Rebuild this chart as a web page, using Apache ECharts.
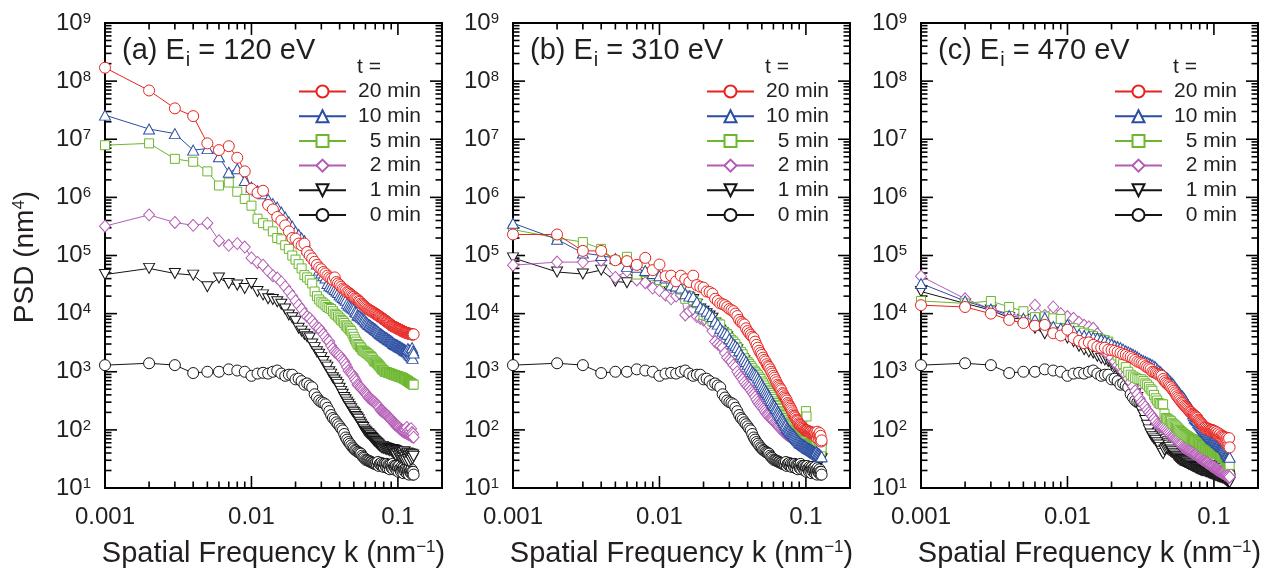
<!DOCTYPE html>
<html>
<head>
<meta charset="utf-8">
<title>PSD vs spatial frequency</title>
<script src="https://cdn.jsdelivr.net/npm/echarts@6/dist/echarts.min.js"></script>
<style>
  html, body { margin: 0; padding: 0; background: #ffffff; }
  #chart { width: 1270px; height: 573px; }
</style>
</head>
<body>
<div id="chart"></div>
<script>
// Spatial frequency grid k (nm^-1), shared by every curve
const k = [
  0.001,0.002,0.003,0.004,0.005,0.006,0.007,0.008,0.009,0.010,
  0.011,0.012,0.013,0.014,0.015,0.016,0.017,0.018,0.019,0.020,
  0.021,0.022,0.023,0.024,0.025,0.026,0.027,0.028,0.029,0.030,
  0.031,0.032,0.033,0.034,0.035,0.036,0.037,0.038,0.039,0.040,
  0.041,0.042,0.043,0.044,0.045,0.046,0.047,0.048,0.049,0.050,
  0.051,0.052,0.053,0.054,0.055,0.056,0.057,0.058,0.059,0.060,
  0.061,0.062,0.063,0.064,0.065,0.066,0.067,0.068,0.069,0.070,
  0.071,0.072,0.073,0.074,0.075,0.076,0.077,0.078,0.079,0.080,
  0.081,0.082,0.083,0.084,0.085,0.086,0.087,0.088,0.089,0.090,
  0.091,0.092,0.093,0.094,0.095,0.096,0.097,0.098,0.099,0.100,
  0.101,0.102,0.103,0.104,0.105,0.106,0.107,0.108,0.109,0.110,
  0.111,0.112,0.113,0.114,0.115,0.116,0.117,0.118,0.119,0.120,
  0.121,0.122,0.123,0.124,0.125,0.126,0.127,0.128
];

// PSD (nm^4) of the unirradiated surface, t = 0 min (same in all panels)
const psd0 = [
  1.3e3,1.4e3,1.3e3,9.5e2,1.0e3,1.0e3,1.1e3,1.05e3,1.0e3,8.5e2,
  9.3e2,9.6e2,9.3e2,1.0e3,1.05e3,9.3e2,8.5e2,8.9e2,8.9e2,7.4e2,
  7.6e2,6.9e2,6.0e2,6.3e2,5.8e2,5.4e2,4.1e2,3.6e2,3.2e2,3.0e2,
  2.9e2,2.75e2,2.4e2,2.1e2,1.8e2,1.6e2,1.5e2,1.35e2,1.25e2,1.15e2,
  1.05e2,9.8e1,8.5e1,7.4e1,6.8e1,6.2e1,5.8e1,5.4e1,5.0e1,4.8e1,
  4.5e1,4.4e1,4.2e1,4.1e1,4.0e1,3.9e1,3.6e1,3.4e1,3.3e1,3.1e1,
  3.0e1,3.0e1,2.95e1,2.9e1,2.8e1,2.8e1,2.7e1,2.7e1,2.6e1,2.6e1,
  2.7e1,2.5e1,2.8e1,2.4e1,2.6e1,2.5e1,2.7e1,2.4e1,2.6e1,2.3e1,
  2.6e1,2.5e1,2.3e1,2.6e1,2.2e1,2.5e1,2.4e1,2.1e1,2.5e1,2.3e1,
  2.2e1,2.6e1,2.1e1,2.4e1,2.3e1,2.2e1,2.4e1,2.0e1,2.3e1,2.2e1,
  1.9e1,2.4e1,2.1e1,2.2e1,1.9e1,2.3e1,2.0e1,2.2e1,1.8e1,2.3e1,
  2.1e1,1.9e1,2.2e1,2.0e1,1.8e1,2.3e1,1.9e1,2.1e1,1.7e1,2.2e1,
  1.9e1,2.0e1,1.8e1,2.1e1,1.9e1,1.7e1,1.9e1,1.7e1
];

// (a) Ei = 120 eV
const a1 = [
  4.7e4,6.0e4,4.9e4,4.6e4,2.9e4,4.1e4,3.3e4,3.1e4,2.7e4,3.3e4,
  2.4e4,2.1e4,1.8e4,1.75e4,1.6e4,1.45e4,1.2e4,9.5e3,8.5e3,7.4e3,
  5.6e3,5.0e3,4.4e3,4.0e3,3.8e3,3.0e3,2.6e3,2.2e3,2.0e3,1.75e3,
  1.5e3,1.3e3,1.2e3,1.0e3,9.1e2,7.9e2,7.2e2,6.6e2,6.0e2,5.2e2,
  4.6e2,4.1e2,3.6e2,3.3e2,3.0e2,2.75e2,2.5e2,2.3e2,2.1e2,2.0e2,
  1.85e2,1.7e2,1.6e2,1.5e2,1.35e2,1.25e2,1.15e2,1.1e2,1.0e2,9.5e1,
  9.1e1,8.7e1,8.5e1,8.1e1,7.8e1,7.4e1,7.1e1,6.8e1,6.5e1,6.3e1,
  6.1e1,5.9e1,5.7e1,5.5e1,5.3e1,5.2e1,5.0e1,4.9e1,5.2e1,4.8e1,
  5.0e1,4.7e1,4.9e1,4.6e1,4.8e1,4.5e1,4.7e1,4.4e1,4.6e1,4.4e1,
  4.3e1,4.6e1,4.0e1,4.5e1,3.8e1,4.4e1,3.6e1,4.3e1,3.9e1,4.2e1,
  3.5e1,4.1e1,3.9e1,3.3e1,4.0e1,3.8e1,3.2e1,4.0e1,3.6e1,3.0e1,
  4.2e1,3.4e1,3.8e1,2.9e1,3.6e1,4.0e1,3.1e1,3.5e1,2.8e1,3.9e1,
  3.3e1,3.6e1,3.0e1,3.8e1,3.4e1,3.2e1,3.7e1,3.5e1
];
const a2 = [
  3.2e5,5.0e5,3.7e5,3.3e5,3.6e5,1.8e5,1.5e5,1.6e5,1.4e5,9.1e4,
  7.6e4,6.8e4,5.4e4,4.5e4,4.1e4,3.5e4,2.9e4,2.4e4,2.0e4,1.65e4,
  1.4e4,1.2e4,1.0e4,8.9e3,8.3e3,7.4e3,6.5e3,5.8e3,5.6e3,5.0e3,
  4.4e3,4.0e3,3.5e3,3.3e3,2.8e3,2.5e3,2.2e3,2.1e3,2.0e3,1.9e3,
  1.75e3,1.6e3,1.5e3,1.35e3,1.2e3,1.05e3,9.8e2,9.4e2,8.9e2,8.1e2,
  7.4e2,6.8e2,6.0e2,5.8e2,5.5e2,5.3e2,5.0e2,4.8e2,4.5e2,4.3e2,
  4.1e2,3.9e2,3.6e2,3.5e2,3.4e2,3.3e2,3.2e2,3.1e2,3.0e2,2.9e2,
  2.8e2,2.7e2,2.6e2,2.5e2,2.4e2,2.2e2,2.15e2,2.1e2,2.05e2,2.0e2,
  1.95e2,1.9e2,1.85e2,1.8e2,1.75e2,1.7e2,1.65e2,1.6e2,1.55e2,1.5e2,
  1.45e2,1.4e2,1.35e2,1.3e2,1.26e2,1.25e2,1.2e2,1.2e2,1.15e2,1.15e2,
  1.1e2,1.1e2,1.05e2,1.05e2,1.0e2,1.0e2,9.8e1,9.6e1,9.4e1,9.2e1,
  1.0e2,9.0e1,9.8e1,8.8e1,1.1e2,8.6e1,9.5e1,8.4e1,1.0e2,8.2e1,
  9.2e1,8.0e1,1.05e2,7.8e1,9.0e1,7.6e1,8.5e1,7.5e1
];
const a5 = [
  7.9e6,8.5e6,4.6e6,4.1e6,2.8e6,1.6e6,1.8e6,1.25e6,9.4e5,7.2e5,
  4.3e5,3.6e5,3.3e5,2.6e5,2.0e5,1.9e5,1.5e5,1.3e5,1.0e5,8.5e4,
  7.1e4,6.0e4,4.6e4,4.2e4,3.8e4,3.3e4,2.4e4,2.0e4,1.75e4,1.6e4,
  1.5e4,1.4e4,1.3e4,1.25e4,1.2e4,1.1e4,1.0e4,9.5e3,8.9e3,8.3e3,
  7.8e3,7.4e3,6.9e3,6.3e3,6.0e3,5.6e3,5.3e3,5.0e3,4.5e3,4.0e3,
  3.6e3,3.3e3,3.0e3,2.9e3,2.7e3,2.6e3,2.4e3,2.3e3,2.25e3,2.2e3,
  2.1e3,2.05e3,2.0e3,1.9e3,1.85e3,1.8e3,1.7e3,1.6e3,1.5e3,1.5e3,
  1.45e3,1.4e3,1.35e3,1.3e3,1.25e3,1.2e3,1.15e3,1.1e3,1.07e3,1.05e3,
  1.0e3,1.0e3,9.9e2,9.8e2,9.7e2,9.6e2,9.5e2,9.4e2,9.3e2,9.2e2,
  9.1e2,9.0e2,8.9e2,8.8e2,8.7e2,8.7e2,8.6e2,8.5e2,8.4e2,8.4e2,
  8.3e2,8.2e2,8.2e2,8.1e2,8.0e2,8.0e2,7.9e2,7.8e2,7.7e2,7.6e2,
  7.5e2,7.4e2,7.3e2,7.2e2,7.1e2,7.0e2,6.9e2,6.8e2,6.7e2,6.6e2,
  6.5e2,6.4e2,6.3e2,6.2e2,6.2e2,6.1e2,6.0e2,6.0e2
];
const a10 = [
  2.6e7,1.5e7,1.25e7,6.5e6,6.9e6,5.0e6,2.7e6,3.1e6,1.95e6,1.5e6,
  1.3e6,1.15e6,9.3e5,7.8e5,6.8e5,5.6e5,4.6e5,3.8e5,3.2e5,2.6e5,
  2.3e5,2.0e5,1.8e5,1.3e5,1.15e5,1.0e5,8.9e4,7.1e4,5.6e4,5.0e4,
  4.5e4,4.1e4,3.3e4,3.0e4,2.9e4,2.75e4,2.6e4,2.45e4,2.3e4,2.1e4,
  2.0e4,1.9e4,1.8e4,1.7e4,1.5e4,1.4e4,1.35e4,1.3e4,1.25e4,1.2e4,
  1.1e4,1.05e4,9.5e3,9.3e3,9.1e3,8.7e3,8.5e3,8.1e3,7.8e3,7.4e3,
  7.1e3,6.8e3,6.5e3,6.4e3,6.2e3,6.0e3,5.8e3,5.7e3,5.5e3,5.4e3,
  5.2e3,5.1e3,4.9e3,4.8e3,4.6e3,4.5e3,4.4e3,4.3e3,4.2e3,4.1e3,
  4.0e3,3.9e3,3.85e3,3.8e3,3.7e3,3.6e3,3.55e3,3.5e3,3.4e3,3.35e3,
  3.3e3,3.2e3,3.1e3,3.05e3,3.0e3,2.95e3,2.9e3,2.9e3,2.85e3,2.8e3,
  2.75e3,2.7e3,2.7e3,2.65e3,2.6e3,2.55e3,2.55e3,2.5e3,2.45e3,2.4e3,
  2.4e3,2.35e3,2.3e3,2.3e3,2.25e3,2.2e3,2.5e3,2.1e3,2.4e3,2.0e3,
  2.3e3,1.9e3,2.2e3,1.8e3,2.6e3,1.7e3,2.3e3,2.1e3
];
const a20 = [
  1.7e8,6.9e7,3.4e7,2.5e7,8.5e6,6.5e6,7.6e6,4.8e6,2.8e6,1.4e6,
  1.2e6,1.3e6,7.4e5,6.2e5,4.6e5,4.0e5,3.3e5,2.6e5,2.0e5,1.95e5,
  1.6e5,1.5e5,1.6e5,1.15e5,1.0e5,8.9e4,7.8e4,6.9e4,6.2e4,5.8e4,
  5.2e4,4.9e4,4.5e4,4.2e4,4.0e4,3.8e4,4.2e4,3.5e4,3.3e4,3.1e4,
  2.9e4,2.7e4,2.6e4,2.5e4,2.35e4,2.3e4,2.2e4,2.1e4,2.0e4,1.95e4,
  1.85e4,1.8e4,1.75e4,1.65e4,1.6e4,1.5e4,1.45e4,1.4e4,1.35e4,1.3e4,
  1.25e4,1.2e4,1.18e4,1.15e4,1.12e4,1.1e4,1.07e4,1.05e4,1.02e4,1.0e4,
  9.8e3,9.5e3,9.3e3,9.1e3,8.9e3,8.7e3,8.5e3,8.3e3,8.1e3,7.9e3,
  7.8e3,7.6e3,7.4e3,7.2e3,7.1e3,6.9e3,6.8e3,6.6e3,6.5e3,6.3e3,
  6.2e3,6.1e3,6.0e3,5.9e3,5.85e3,5.8e3,5.7e3,5.6e3,5.55e3,5.5e3,
  5.4e3,5.35e3,5.3e3,5.2e3,5.15e3,5.1e3,5.0e3,4.95e3,4.9e3,4.85e3,
  4.8e3,4.75e3,4.7e3,4.7e3,4.65e3,4.6e3,4.6e3,4.55e3,4.5e3,4.5e3,
  4.45e3,4.5e3,4.4e3,4.45e3,4.4e3,4.35e3,4.4e3,4.4e3
];

// (b) Ei = 310 eV
const b1 = [
  9.1e4,5.2e4,4.8e4,5.6e4,3.6e4,3.4e4,3.8e4,3.9e4,3.6e4,4.0e4,
  3.2e4,2.9e4,2.6e4,2.4e4,2.0e4,1.85e4,1.75e4,1.45e4,1.2e4,1.1e4,
  1.0e4,9.1e3,8.3e3,6.9e3,6.2e3,5.2e3,4.7e3,4.3e3,4.0e3,3.4e3,
  3.1e3,2.8e3,2.6e3,2.4e3,2.1e3,1.9e3,1.7e3,1.55e3,1.4e3,1.3e3,
  1.15e3,1.05e3,9.6e2,9.0e2,8.5e2,8.0e2,7.3e2,6.7e2,6.2e2,5.6e2,
  5.2e2,4.8e2,4.4e2,4.1e2,3.8e2,3.5e2,3.3e2,3.0e2,2.8e2,2.6e2,
  2.4e2,2.3e2,2.15e2,2.0e2,1.9e2,1.75e2,1.65e2,1.5e2,1.45e2,1.35e2,
  1.25e2,1.2e2,1.1e2,1.05e2,1.0e2,9.6e1,9.2e1,8.9e1,8.6e1,8.3e1,
  8.0e1,7.7e1,7.4e1,7.1e1,6.8e1,6.5e1,6.3e1,6.1e1,5.9e1,5.7e1,
  5.6e1,5.5e1,5.4e1,5.3e1,5.2e1,5.1e1,5.0e1,4.9e1,4.8e1,4.7e1,
  4.6e1,4.5e1,4.5e1,4.4e1,4.3e1,4.3e1,4.2e1,4.1e1,4.1e1,4.0e1,
  3.9e1,4.0e1,3.8e1,3.9e1,3.7e1,3.8e1,3.6e1,3.7e1,3.5e1,3.6e1,
  3.4e1,3.5e1,3.3e1,3.4e1,3.2e1,3.3e1,3.1e1,3.2e1
];
const b2 = [
  6.8e4,7.7e4,7.7e4,8.3e4,4.2e4,5.4e4,3.8e4,3.4e4,2.75e4,2.5e4,
  2.1e4,1.8e4,2.0e4,2.1e4,9.5e3,1.1e4,1.2e4,8.9e3,8.3e3,7.8e3,
  7.4e3,6.3e3,5.0e3,3.3e3,3.0e3,2.8e3,2.6e3,2.1e3,1.75e3,1.6e3,
  1.5e3,1.3e3,1.2e3,1.0e3,8.9e2,8.1e2,7.4e2,6.6e2,6.0e2,5.6e2,
  5.3e2,4.8e2,4.4e2,4.1e2,3.7e2,3.3e2,3.0e2,2.75e2,2.6e2,2.45e2,
  2.3e2,2.15e2,2.0e2,1.85e2,1.8e2,1.7e2,1.6e2,1.55e2,1.5e2,1.45e2,
  1.35e2,1.3e2,1.25e2,1.2e2,1.15e2,1.1e2,1.05e2,1.02e2,9.8e1,9.4e1,
  9.1e1,8.8e1,8.5e1,8.3e1,8.1e1,7.9e1,7.8e1,7.6e1,7.4e1,7.3e1,
  7.1e1,7.0e1,6.9e1,6.8e1,6.7e1,6.6e1,6.5e1,6.4e1,6.3e1,6.2e1,
  6.1e1,6.0e1,5.9e1,5.8e1,5.7e1,5.6e1,5.6e1,5.5e1,5.5e1,5.4e1,
  5.4e1,5.3e1,5.2e1,5.3e1,5.1e1,5.0e1,5.2e1,4.9e1,5.0e1,4.8e1,
  5.1e1,4.7e1,4.9e1,4.7e1,4.8e1,4.6e1,4.9e1,4.5e1,4.8e1,4.6e1,
  4.7e1,4.5e1,4.9e1,4.6e1,5.2e1,4.7e1,5.5e1,5.8e1
];
const b5 = [
  2.8e5,2.0e5,1.7e5,1.3e5,8.3e4,9.5e4,4.7e4,5.2e4,4.5e4,3.8e4,
  3.5e4,3.3e4,2.9e4,2.6e4,1.8e4,2.0e4,1.7e4,1.5e4,1.2e4,9.5e3,
  9.1e3,8.5e3,7.4e3,7.1e3,6.8e3,6.5e3,5.0e3,4.6e3,4.4e3,3.8e3,
  3.5e3,3.3e3,3.0e3,2.6e3,2.2e3,2.2e3,2.0e3,1.7e3,1.5e3,1.45e3,
  1.35e3,1.25e3,1.15e3,1.05e3,1.0e3,9.3e2,8.7e2,8.0e2,7.5e2,6.8e2,
  6.3e2,5.8e2,5.3e2,4.9e2,4.6e2,4.3e2,4.0e2,3.7e2,3.4e2,3.1e2,
  2.9e2,2.7e2,2.6e2,2.4e2,2.3e2,2.1e2,2.0e2,1.9e2,1.8e2,1.7e2,
  1.6e2,1.5e2,1.45e2,1.35e2,1.3e2,1.25e2,1.2e2,1.15e2,1.1e2,1.05e2,
  1.0e2,9.7e1,9.4e1,9.1e1,8.8e1,8.5e1,8.2e1,8.0e1,7.8e1,7.6e1,
  7.4e1,7.2e1,7.0e1,6.8e1,6.7e1,6.6e1,6.5e1,6.4e1,6.3e1,2.1e2,
  1.7e2,6.0e1,5.9e1,5.8e1,5.7e1,5.6e1,5.5e1,5.4e1,5.3e1,5.3e1,
  5.2e1,5.1e1,5.0e1,5.0e1,4.9e1,4.8e1,5.2e1,4.7e1,4.6e1,5.0e1,
  4.5e1,4.4e1,4.8e1,4.3e1,4.6e1,4.2e1,4.4e1,5.0e1
];
const b10 = [
  3.6e5,1.9e5,1.1e5,1.0e5,8.9e4,6.5e4,6.3e4,5.5e4,4.9e4,4.5e4,
  4.1e4,3.1e4,3.0e4,2.75e4,2.2e4,2.0e4,1.95e4,1.6e4,1.3e4,1.2e4,
  1.1e4,9.8e3,8.9e3,7.4e3,6.6e3,5.6e3,5.0e3,4.7e3,4.4e3,3.7e3,
  3.3e3,3.0e3,2.8e3,2.6e3,2.3e3,2.0e3,1.8e3,1.65e3,1.5e3,1.35e3,
  1.2e3,1.1e3,1.0e3,9.5e2,9.0e2,8.5e2,7.8e2,7.1e2,6.6e2,6.0e2,
  5.5e2,5.1e2,4.7e2,4.4e2,4.1e2,3.8e2,3.5e2,3.2e2,2.9e2,2.7e2,
  2.6e2,2.4e2,2.3e2,2.1e2,2.0e2,1.85e2,1.75e2,1.6e2,1.55e2,1.45e2,
  1.35e2,1.25e2,1.2e2,1.1e2,1.05e2,1.0e2,9.8e1,9.3e1,9.0e1,8.7e1,
  8.5e1,8.2e1,8.0e1,7.7e1,7.4e1,7.1e1,6.8e1,6.6e1,6.4e1,6.2e1,
  6.0e1,5.9e1,5.8e1,5.7e1,5.6e1,5.5e1,5.4e1,5.3e1,5.2e1,5.1e1,
  5.0e1,4.9e1,4.8e1,4.8e1,4.7e1,4.7e1,4.6e1,4.5e1,4.5e1,4.4e1,
  4.3e1,4.3e1,4.2e1,4.1e1,4.1e1,4.0e1,3.9e1,4.2e1,3.8e1,4.0e1,
  3.7e1,3.9e1,3.6e1,3.8e1,3.5e1,3.6e1,3.4e1,3.5e1
];
const b20 = [
  2.3e5,2.3e5,1.2e5,1.2e5,8.3e4,8.0e4,6.9e4,9.1e4,5.6e4,7.0e4,
  4.4e4,4.5e4,3.6e4,4.5e4,3.9e4,3.5e4,4.5e4,3.1e4,2.9e4,2.8e4,
  2.4e4,2.35e4,2.2e4,1.8e4,1.65e4,1.5e4,1.45e4,1.4e4,1.3e4,1.2e4,
  1.15e4,1.1e4,1.0e4,9.1e3,7.8e3,7.2e3,6.8e3,6.5e3,5.6e3,5.0e3,
  4.6e3,4.3e3,4.0e3,3.8e3,3.3e3,2.9e3,2.6e3,2.3e3,2.1e3,1.95e3,
  1.75e3,1.6e3,1.5e3,1.35e3,1.25e3,1.2e3,1.1e3,1.0e3,9.3e2,8.5e2,
  7.9e2,7.2e2,6.6e2,6.0e2,5.7e2,5.4e2,5.1e2,4.8e2,4.3e2,4.1e2,
  3.8e2,3.6e2,3.4e2,3.2e2,2.9e2,2.75e2,2.6e2,2.45e2,2.3e2,2.15e2,
  2.0e2,1.85e2,1.75e2,1.7e2,1.6e2,1.5e2,1.45e2,1.4e2,1.3e2,1.25e2,
  1.2e2,1.2e2,1.15e2,1.1e2,1.1e2,1.05e2,1.05e2,1.0e2,1.0e2,9.8e1,
  9.6e1,9.8e1,9.4e1,9.5e1,9.2e1,9.1e1,8.9e1,9.2e1,8.6e1,9.0e1,
  8.5e1,8.8e1,8.4e1,8.5e1,8.0e1,9.0e1,7.6e1,8.6e1,7.2e1,9.3e1,
  7.8e1,8.2e1,6.8e1,8.8e1,7.4e1,7.9e1,6.3e1,6.6e1
];

// (c) Ei = 470 eV
const c1 = [
  2.4e4,1.5e4,1.15e4,8.5e3,8.0e3,5.6e3,4.5e3,4.8e3,4.2e3,3.8e3,
  3.3e3,2.75e3,2.4e3,2.2e3,2.1e3,1.85e3,1.7e3,1.6e3,1.5e3,1.35e3,
  1.2e3,1.1e3,1.0e3,8.9e2,7.6e2,6.6e2,6.0e2,5.0e2,4.2e2,3.6e2,
  2.75e2,2.1e2,1.8e2,1.45e2,1.2e2,1.0e2,8.5e1,7.6e1,7.0e1,6.6e1,
  6.0e1,5.5e1,5.0e1,4.3e1,3.9e1,4.5e1,4.8e1,4.9e1,5.0e1,5.0e1,
  4.5e1,4.2e1,3.9e1,3.7e1,3.5e1,3.4e1,3.3e1,3.2e1,3.1e1,3.0e1,
  3.0e1,2.95e1,2.9e1,2.8e1,2.8e1,2.7e1,2.6e1,2.6e1,2.5e1,2.5e1,
  2.4e1,2.4e1,2.35e1,2.3e1,2.25e1,2.2e1,2.2e1,2.15e1,2.1e1,2.1e1,
  2.05e1,2.05e1,2.0e1,2.0e1,2.0e1,2.0e1,1.95e1,1.95e1,1.9e1,1.9e1,
  1.9e1,1.85e1,1.85e1,1.8e1,1.8e1,1.8e1,1.75e1,1.75e1,1.75e1,1.7e1,
  1.7e1,1.7e1,1.65e1,1.65e1,1.65e1,1.6e1,1.6e1,1.6e1,1.6e1,1.55e1,
  1.55e1,1.55e1,1.55e1,1.5e1,1.5e1,1.5e1,1.5e1,1.45e1,1.45e1,1.4e1,
  1.4e1,1.35e1,1.35e1,1.3e1,1.3e1,1.3e1,1.25e1,1.25e1
];
const c2 = [
  4.4e4,1.8e4,1.2e4,1.0e4,8.9e3,1.4e4,9.3e3,1.3e4,1.0e4,8.9e3,
  8.3e3,7.1e3,6.3e3,5.9e3,5.6e3,4.5e3,3.2e3,2.2e3,2.0e3,1.75e3,
  1.5e3,1.3e3,1.2e3,1.0e3,8.9e2,7.6e2,6.6e2,5.6e2,4.7e2,4.1e2,
  3.5e2,3.0e2,2.75e2,2.5e2,2.2e2,2.0e2,1.85e2,1.7e2,1.55e2,1.4e2,
  1.25e2,1.2e2,1.15e2,1.12e2,1.1e2,1.05e2,1.0e2,9.5e1,9.0e1,8.5e1,
  8.0e1,7.6e1,7.4e1,7.1e1,6.8e1,6.6e1,6.3e1,6.0e1,5.7e1,5.5e1,
  5.2e1,5.0e1,4.9e1,4.8e1,4.7e1,4.6e1,4.5e1,4.4e1,4.3e1,4.2e1,
  4.1e1,4.0e1,3.9e1,3.9e1,3.8e1,3.7e1,3.6e1,3.5e1,3.4e1,3.3e1,
  3.3e1,3.2e1,3.1e1,3.1e1,3.0e1,2.95e1,2.9e1,2.8e1,2.8e1,2.7e1,
  2.7e1,2.6e1,2.6e1,2.5e1,2.5e1,2.4e1,2.4e1,2.35e1,2.3e1,2.3e1,
  2.2e1,2.2e1,2.15e1,2.1e1,2.1e1,2.05e1,2.0e1,2.0e1,1.95e1,1.95e1,
  1.9e1,1.9e1,1.85e1,1.85e1,1.8e1,1.8e1,1.85e1,1.75e1,1.7e1,1.75e1,
  1.65e1,1.7e1,1.6e1,1.65e1,1.55e1,1.6e1,1.5e1,1.55e1
];
const c5 = [
  1.65e4,1.5e4,1.65e4,1.3e4,1.1e4,8.7e3,8.9e3,8.3e3,8.1e3,5.6e3,
  5.6e3,5.0e3,4.7e3,4.4e3,4.1e3,3.8e3,3.6e3,3.5e3,3.3e3,2.8e3,
  2.3e3,1.9e3,1.6e3,1.35e3,1.2e3,1.0e3,8.9e2,8.3e2,7.9e2,7.6e2,
  7.4e2,7.4e2,6.9e2,6.3e2,6.0e2,5.5e2,5.0e2,4.7e2,4.0e2,3.5e2,
  3.2e2,2.9e2,2.8e2,2.75e2,2.75e2,1.9e2,1.6e2,1.55e2,1.5e2,1.45e2,
  1.4e2,1.3e2,1.25e2,1.2e2,1.15e2,1.1e2,1.05e2,1.0e2,9.6e1,9.2e1,
  8.9e1,8.5e1,8.3e1,8.1e1,7.9e1,7.7e1,7.5e1,7.3e1,7.1e1,7.0e1,
  6.9e1,6.8e1,6.7e1,6.6e1,6.5e1,6.3e1,6.2e1,6.1e1,6.0e1,5.8e1,
  5.7e1,5.5e1,5.4e1,5.3e1,5.1e1,5.0e1,4.9e1,4.8e1,4.8e1,4.7e1,
  4.6e1,4.5e1,4.5e1,4.4e1,4.3e1,4.3e1,4.2e1,4.2e1,4.1e1,4.2e1,
  4.1e1,4.0e1,4.0e1,3.9e1,3.9e1,3.8e1,3.8e1,3.7e1,3.7e1,3.6e1,
  3.6e1,3.5e1,3.5e1,3.4e1,3.4e1,3.4e1,3.4e1,3.2e1,3.1e1,3.0e1,
  2.9e1,2.8e1,2.8e1,2.7e1,2.6e1,2.6e1,2.5e1,2.5e1
];
const c10 = [
  3.3e4,1.65e4,1.2e4,9.3e3,8.3e3,7.9e3,8.5e3,6.0e3,5.6e3,6.5e3,
  5.0e3,4.4e3,4.2e3,4.1e3,3.9e3,3.8e3,3.6e3,3.4e3,3.2e3,3.0e3,
  2.8e3,2.7e3,2.6e3,2.45e3,2.3e3,2.2e3,2.1e3,2.0e3,1.9e3,1.8e3,
  1.7e3,1.6e3,1.55e3,1.5e3,1.45e3,1.4e3,1.35e3,1.3e3,1.25e3,1.2e3,
  1.1e3,1.05e3,1.0e3,9.5e2,8.9e2,8.5e2,8.1e2,7.8e2,7.4e2,7.0e2,
  6.6e2,6.3e2,6.0e2,5.6e2,5.2e2,4.9e2,4.6e2,4.4e2,4.1e2,3.9e2,
  3.8e2,3.6e2,3.4e2,3.2e2,3.0e2,2.8e2,2.6e2,2.5e2,2.4e2,2.2e2,
  2.1e2,1.9e2,1.75e2,1.6e2,1.55e2,1.5e2,1.45e2,1.35e2,1.3e2,1.25e2,
  1.2e2,1.15e2,1.1e2,1.05e2,1.0e2,9.8e1,9.5e1,9.3e1,9.0e1,8.7e1,
  8.5e1,8.2e1,8.0e1,7.7e1,7.5e1,7.3e1,7.1e1,7.0e1,6.9e1,6.9e1,
  6.7e1,6.5e1,6.4e1,6.2e1,6.1e1,6.0e1,5.9e1,5.8e1,5.6e1,5.5e1,
  5.4e1,5.3e1,5.2e1,5.1e1,5.1e1,5.0e1,5.0e1,4.8e1,4.6e1,4.4e1,
  4.2e1,4.0e1,3.9e1,3.8e1,3.6e1,3.5e1,3.4e1,3.4e1
];
const c20 = [
  1.4e4,1.3e4,1.0e4,7.8e3,6.9e3,6.2e3,6.4e3,4.6e3,4.2e3,5.3e3,
  3.8e3,3.4e3,3.1e3,3.2e3,2.9e3,2.7e3,2.6e3,2.6e3,2.4e3,2.35e3,
  2.3e3,2.2e3,2.1e3,2.0e3,1.95e3,1.85e3,1.8e3,1.7e3,1.6e3,1.5e3,
  1.45e3,1.4e3,1.35e3,1.25e3,1.2e3,1.15e3,1.1e3,1.0e3,9.8e2,9.5e2,
  9.2e2,8.9e2,8.7e2,8.5e2,7.5e2,6.9e2,6.5e2,6.2e2,5.9e2,5.6e2,
  5.4e2,5.0e2,4.7e2,4.4e2,4.1e2,3.8e2,3.6e2,3.4e2,3.2e2,3.0e2,
  2.9e2,2.75e2,2.6e2,2.5e2,2.4e2,2.3e2,2.2e2,2.1e2,2.05e2,2.0e2,
  1.9e2,1.85e2,1.8e2,1.75e2,1.7e2,1.65e2,1.6e2,1.5e2,1.45e2,1.4e2,
  1.35e2,1.3e2,1.25e2,1.2e2,1.15e2,1.1e2,1.1e2,1.05e2,1.08e2,1.02e2,
  1.05e2,1.0e2,1.03e2,9.8e1,1.0e2,9.6e1,1.0e2,9.8e1,9.5e1,9.3e1,
  9.6e1,9.0e1,8.8e1,9.2e1,8.5e1,8.2e1,8.8e1,8.0e1,7.8e1,8.4e1,
  7.6e1,7.4e1,8.0e1,7.2e1,7.8e1,6.8e1,7.6e1,6.5e1,7.4e1,6.2e1,
  7.0e1,5.8e1,7.3e1,5.5e1,6.8e1,5.2e1,7.2e1,5.0e1
];

// Text
const panelTitles = [
  '{t|(a) E}{sub|i}{t| = 120 eV}',
  '{t|(b) E}{sub|i}{t| = 310 eV}',
  '{t|(c) E}{sub|i}{t| = 470 eV}'
];
const kTickLabels = { '-3': '0.001', '-2': '0.01', '-1': '0.1' };
const xAxisTitle = 'Spatial Frequency k (nm{sup|\u22121})';
const yAxisTitle = 'PSD (nm{sup|4})';
const legendHeader = 't =';
const legendNames = ['20 min', '10 min', '5 min', '2 min', '1 min', '0 min'];
const drawOrder = ['0 min', '1 min', '2 min', '5 min', '10 min', '20 min'];

const panelData = [
  { '0 min': psd0, '1 min': a1, '2 min': a2, '5 min': a5, '10 min': a10, '20 min': a20 },
  { '0 min': psd0, '1 min': b1, '2 min': b2, '5 min': b5, '10 min': b10, '20 min': b20 },
  { '0 min': psd0, '1 min': c1, '2 min': c2, '5 min': c5, '10 min': c10, '20 min': c20 }
];

// Marker / colour per irradiation time
const STYLE = {
  '20 min': { color: '#e8231f', symbol: 'circle',   size: 11,       rotate: 0 },
  '10 min': { color: '#2b4ea2', symbol: 'triangle', size: [11, 10], rotate: 0 },
  '5 min':  { color: '#6cb72d', symbol: 'rect',     size: 9,        rotate: 0 },
  '2 min':  { color: '#b45cb5', symbol: 'diamond',  size: [11, 12], rotate: 0 },
  '1 min':  { color: '#151515', symbol: 'triangle', size: [11, 10], rotate: 180 },
  '0 min':  { color: '#151515', symbol: 'circle',   size: 11,       rotate: 0 }
};

const FONT = '"Liberation Sans", Arial, Helvetica, sans-serif';
const INK = '#231f20';

// Layout
const GRID_TOP = 23, GRID_H = 468, GRID_W = 337;
const gridLeft = [105, 513, 921];
const K_MIN = 0.001, K_MAX = 0.2, PSD_MIN = 10, PSD_MAX = 1e9;
const MAJOR_LEN = 12, MINOR_LEN = 6.5;

// Tick positions on the log axes
const kMajorTicks = [0.001, 0.01, 0.1];
const kMinorTicks = [];
[0.001, 0.01].forEach(d => { for (let m = 2; m <= 9; m++) kMinorTicks.push(m * d); });
const psdMajorTicks = [];
const psdMinorTicks = [];
for (let e = 1; e <= 9; e++) psdMajorTicks.push(Math.pow(10, e));
for (let e = 1; e <= 8; e++) for (let m = 2; m <= 9; m++) psdMinorTicks.push(m * Math.pow(10, e));

function decadeOf(v) {
  const l = Math.log10(v);
  const e = Math.round(l);
  return Math.abs(l - e) < 1e-6 ? e : null;
}

// Inward ticks on all four sides of a frame, placed through the axis scales
function renderTicks(params, api) {
  const cs = params.coordSys;
  const L = cs.x, R = cs.x + cs.width, T = cs.y, B = cs.y + cs.height;
  const children = [];
  const seg = (x1, y1, x2, y2) => children.push({
    type: 'line', shape: { x1, y1, x2, y2 },
    style: { stroke: '#000', lineWidth: 1.6 }
  });
  const xOf = v => api.coord([v, 1e5])[0];
  const yOf = v => api.coord([0.01, v])[1];
  kMajorTicks.forEach(v => { const x = xOf(v); seg(x, B, x, B - MAJOR_LEN); seg(x, T, x, T + MAJOR_LEN); });
  kMinorTicks.forEach(v => { const x = xOf(v); seg(x, B, x, B - MINOR_LEN); seg(x, T, x, T + MINOR_LEN); });
  psdMajorTicks.forEach(v => { const y = yOf(v); seg(L, y, L + MAJOR_LEN, y); seg(R, y, R - MAJOR_LEN, y); });
  psdMinorTicks.forEach(v => { const y = yOf(v); seg(L, y, L + MINOR_LEN, y); seg(R, y, R - MINOR_LEN, y); });
  return { type: 'group', children };
}

const grids = [], xAxes = [], yAxes = [], series = [], legends = [], graphics = [];

gridLeft.forEach((gl, i) => {
  grids.push({
    left: gl, top: GRID_TOP, width: GRID_W, height: GRID_H,
    show: true, borderColor: '#000', borderWidth: 2, backgroundColor: 'transparent'
  });

  xAxes.push({
    type: 'log', logBase: 10, gridIndex: i, min: K_MIN, max: K_MAX,
    axisLine: { show: true, onZero: false, lineStyle: { color: '#000', width: 2 } },
    axisTick: { show: false }, splitLine: { show: false }, minorTick: { show: false },
    axisLabel: {
      margin: 17, fontSize: 24, lineHeight: 24, fontFamily: FONT, color: INK,
      showMinLabel: true, showMaxLabel: true,
      formatter: v => { const e = decadeOf(v); return e === null ? '' : (kTickLabels[String(e)] || ''); }
    },
    name: xAxisTitle, nameLocation: 'middle', nameGap: 51,
    nameTextStyle: {
      fontSize: 29, lineHeight: 29, fontFamily: FONT, color: INK,
      rich: { sup: { fontSize: 17, lineHeight: 15, verticalAlign: 'top', fontFamily: FONT, color: INK } }
    }
  });

  yAxes.push({
    type: 'log', logBase: 10, gridIndex: i, min: PSD_MIN, max: PSD_MAX,
    axisLine: { show: true, onZero: false, lineStyle: { color: '#000', width: 2 } },
    axisTick: { show: false }, splitLine: { show: false }, minorTick: { show: false },
    axisLabel: {
      margin: 14, fontFamily: FONT, color: INK,
      formatter: v => { const e = decadeOf(v); return e === null ? '' : '{b|10}{s|' + e + '}'; },
      rich: {
        b: { fontSize: 24, lineHeight: 24, fontFamily: FONT, color: INK },
        s: { fontSize: 15, lineHeight: 14, verticalAlign: 'top', fontFamily: FONT, color: INK }
      }
    }
  });

  drawOrder.forEach(name => {
    const st = STYLE[name];
    const values = panelData[i][name];
    series.push({
      type: 'line', name, xAxisIndex: i, yAxisIndex: i,
      data: k.map((kv, j) => [kv, values[j]]),
      symbol: st.symbol, symbolSize: st.size, symbolRotate: st.rotate,
      showSymbol: true, showAllSymbol: true, clip: false,
      lineStyle: { color: st.color, width: 1 },
      itemStyle: { color: '#ffffff', borderColor: st.color, borderWidth: 1 },
      emphasis: { disabled: true }, z: 3
    });
  });

  series.push({
    type: 'custom', xAxisIndex: i, yAxisIndex: i, silent: true, clip: false, z: 2,
    data: [[0.01, 1e5]], renderItem: renderTicks
  });

  legends.push({
    left: gl + 193, top: 81, orient: 'vertical', padding: 0,
    itemWidth: 47, itemHeight: 15, itemGap: 3.7,
    selectedMode: false, data: legendNames,
    lineStyle: { width: 2 },
    formatter: name => '{r|' + name + '}',
    textStyle: {
      rich: { r: { width: 70, align: 'right', fontSize: 21, lineHeight: 22, fontFamily: FONT, color: INK } }
    }
  });

  // Panel title with a lowered subscript "i" (top-aligned token pushed down by its top padding)
  graphics.push({
    type: 'text', left: gl + 17, top: 36, silent: true,
    style: {
      text: panelTitles[i], fontFamily: FONT, fill: INK,
      rich: {
        t: { fontSize: 29, lineHeight: 29, verticalAlign: 'top', fontFamily: FONT, fill: INK },
        sub: { fontSize: 20, lineHeight: 29, verticalAlign: 'top', padding: [14, 0, 0, 1], fontFamily: FONT, fill: INK }
      }
    }
  });
  graphics.push({
    type: 'text', left: gl + 252, top: 57, silent: true,
    style: { text: legendHeader, fontSize: 21, fontFamily: FONT, fill: INK }
  });
});

graphics.push({
  type: 'text', x: 25, y: GRID_TOP + GRID_H / 2, rotation: Math.PI / 2, silent: true,
  style: {
    text: yAxisTitle, fontSize: 28, lineHeight: 28, fontFamily: FONT, fill: INK,
    align: 'center', verticalAlign: 'middle',
    rich: { sup: { fontSize: 17, lineHeight: 15, verticalAlign: 'top', fontFamily: FONT, fill: INK } }
  }
});

const chart = echarts.init(document.getElementById('chart'), null, { renderer: 'canvas' });
chart.setOption({
  animation: false,
  backgroundColor: '#ffffff',
  textStyle: { fontFamily: FONT },
  grid: grids,
  xAxis: xAxes,
  yAxis: yAxes,
  legend: legends,
  graphic: graphics,
  series: series
});
</script>
</body>
</html>
